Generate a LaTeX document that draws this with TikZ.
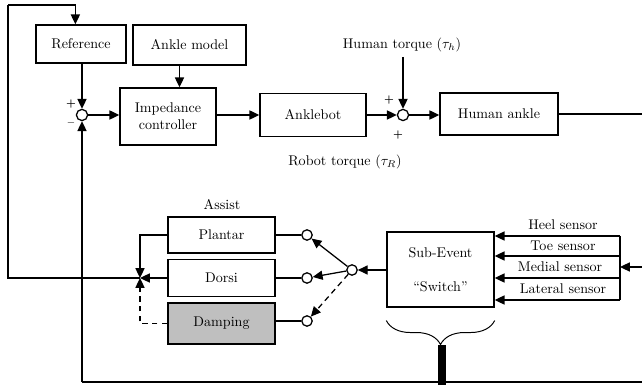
\documentclass[tikz,border=0pt]{standalone}
\usepackage{tikz}
\usetikzlibrary{positioning, arrows.meta, decorations.pathreplacing}

\begin{document}
\begin{tikzpicture}[
        x=0.025cm, y=-0.025cm,
        % Define styles for the components
        block/.style={rectangle, draw, line width=1pt, text centered, minimum height=1cm, minimum width=2.675cm},
        arrow/.style={line width=0.9pt,-{Triangle[length=7pt,width=6.5pt]}},
        line/.style={line width=0.9pt},
        sumnode/.style={circle, draw, line width=0.9pt, fill=white, inner sep=0pt, minimum size=0.28cm},
        contact/.style={circle, draw, line width=0.9pt, fill=white, inner sep=0pt, minimum size=0.26cm},
        sign/.style={font=\scriptsize\bfseries, inner sep=0pt}
    ]
    \useasboundingbox (0,0) rectangle (642,385);

    % Define nodes
    \node[block, minimum width=2.25cm, minimum height=0.95cm] (ref) at (81,44) {Reference};
    \node[block, minimum width=2.825cm] (model) at (189.5,45) {Ankle model};
    \node[block, minimum width=2.4cm, minimum height=1.425cm, align=center] (imp) at (168,116.5) {Impedance\\controller};
    \node[sumnode] (sum1) at (82,115) {};
    \node[block, minimum width=2.65cm, minimum height=1.075cm] (bot) at (313,115) {Anklebot};
    \node[sumnode] (sum2) at (403,115) {};
    \node[block, minimum width=2.95cm, minimum height=1.05cm] (human) at (499,114) {Human ankle};
    \node (tauh) at (402,45) {Human torque ($\tau_h$)};
    \node (taur) at (345,162) {Robot torque ($\tau_R$)};

    \node[sign] at (71,104) {+};
    \node[sign] at (71,123) {$-$};
    \node[sign] at (389,100) {+};
    \node[sign] at (398,135) {+};

    \node (assist) at (222,205) {Assist};
    \node[block, minimum height=0.9cm] (plantar) at (221.5,235) {Plantar};
    \node[block, minimum height=0.925cm] (dorsi) at (221.5,278) {Dorsi};
    \node[block, minimum height=1.025cm, fill=black!25] (damp) at (221.5,323.5) {Damping};
    \node[contact] (cp) at (307,235) {};
    \node[contact] (cd) at (307,278) {};
    \node[contact] (cm) at (307,321) {};
    \node[contact] (piv) at (352,270) {};
    \node[block, minimum height=1.875cm, align=center] (sub) at (440.5,269.5) {Sub-Event\\[12pt]“Switch”};

    \node (heel) at (563,225) {Heel sensor};
    \node (toe) at (563,246) {Toe sensor};
    \node (medial) at (560,267) {Medial sensor};
    \node (lateral) at (563,289) {Lateral sensor};

    \coordinate (tl) at (8,5);
    \coordinate (junc) at (140,278);
    \coordinate (out) at (642,114);
    \coordinate (fb) at (82,382);
    \coordinate (fbend) at (642,382);
    \coordinate (s1) at (620,236);
    \coordinate (s2) at (620,256);
    \coordinate (s3) at (620,278);
    \coordinate (s4) at (620,300);
    \coordinate (sin) at (642,267);
    \coordinate (bar) at (442,345);
    \coordinate (barend) at (442,385);

    % Draw arrows
    \draw[arrow] (ref.south -| sum1) -- (sum1);
    \draw[arrow] ([xshift=-0.25cm]model.south) -- ([xshift=-0.25cm]model.south |- imp.north);
    \draw[arrow] (sum1) -- (sum1 -| imp.west);
    \draw[arrow] (imp.east |- bot) -- (bot.west);
    \draw[arrow] (bot.east) -- (sum2);
    \draw[arrow] (sum2 |- tauh.south) -- (sum2);
    \draw[arrow] (sum2) -- (sum2 -| human.west);
    \draw[line] (human.east) -- (out);

    % Feedback loops
    \draw[line] (fbend) -- (fb);
    \draw[arrow] (fb) -- (sum1);
    \draw[line width=0.2cm] (bar) -- (barend);
    \draw[line width=0.7pt, decorate, decoration={brace, mirror, amplitude=0.6cm}]
        ([yshift=-0.32cm]sub.south west) -- ([yshift=-0.32cm]sub.south east);
    \draw[line] (junc) -| (tl);
    \draw[arrow] (tl) -| ([xshift=-4pt]ref.north);

    % Assist modes and switch
    \draw[arrow] (plantar.west) -| (junc);
    \draw[arrow] (dorsi.west) -- (junc);
    \draw[arrow, dash pattern=on 4pt off 3pt] (damp.west) -| (junc);
    \draw[line] (plantar.east) -- (cp);
    \draw[line] (dorsi.east) -- (cd);
    \draw[line] (damp.east |- cm) -- (cm);
    \draw[arrow] (piv) -- (cp);
    \draw[arrow] (piv) -- (cd);
    \draw[arrow, dash pattern=on 4pt off 3pt] (piv) -- (cm);
    \draw[arrow] (sub.west |- piv) -- (piv);

    % Sensors
    \draw[line] (s1) -- (s4);
    \foreach \s in {s1,s2,s3,s4}
        \draw[arrow] (\s) -- (\s -| sub.east);
    \draw[arrow] (sin) -- (sin -| s1);
\end{tikzpicture}
\end{document}
